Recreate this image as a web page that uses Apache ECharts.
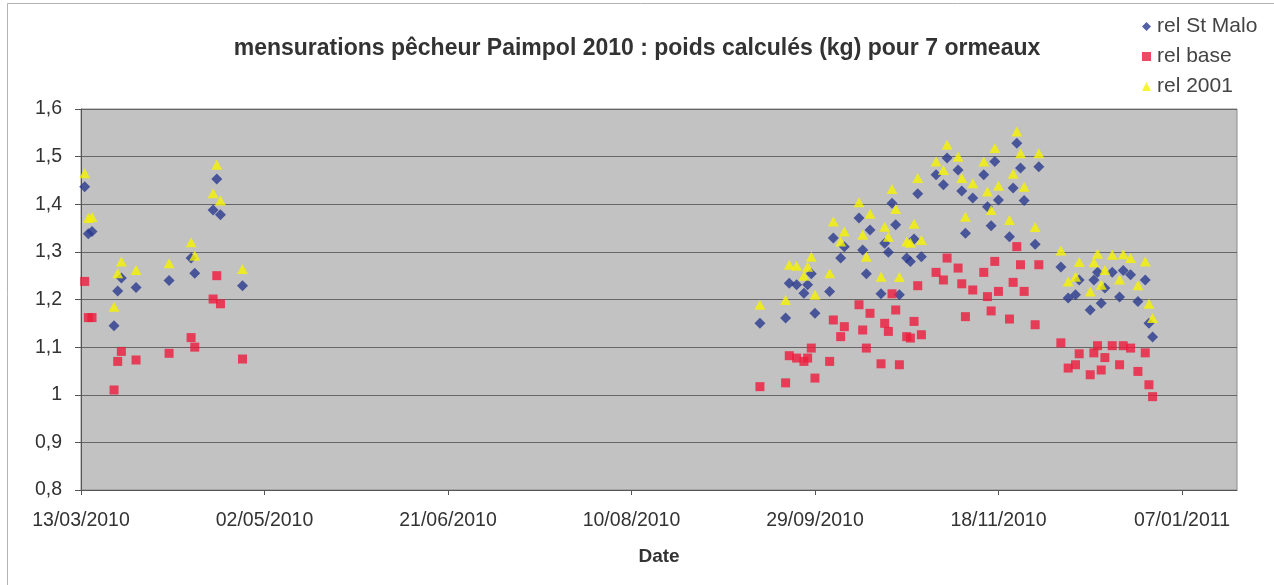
<!DOCTYPE html>
<html><head><meta charset="utf-8">
<script src="https://cdn.jsdelivr.net/npm/echarts@6/dist/echarts.min.js"></script>
<style>html,body{margin:0;padding:0;background:#fff}#c{width:1274px;height:585px}</style>
</head><body><div id="c"></div>
<script>
const titleText = 'mensurations pêcheur Paimpol 2010 : poids calculés (kg) pour 7 ormeaux';
const seriesNames = ['rel St Malo', 'rel base', 'rel 2001'];
const xAxisName = 'Date';
const xAxisStart = '13/03/2010';
const xAxisEnd = '22/01/2011';
const xTickLabels = ['13/03/2010','02/05/2010','21/06/2010','10/08/2010','29/09/2010','18/11/2010','07/01/2011'];
const xTickDays = 50;
const yMin = 0.8, yMax = 1.6, yStep = 0.1;

const dates = [
 '14/03/2010','15/03/2010','16/03/2010','22/03/2010','23/03/2010','24/03/2010','28/03/2010',
 '06/04/2010','12/04/2010','13/04/2010','18/04/2010','19/04/2010','20/04/2010','26/04/2010',
 '14/09/2010','21/09/2010','22/09/2010','24/09/2010','26/09/2010','27/09/2010','28/09/2010','29/09/2010',
 '03/10/2010','04/10/2010','06/10/2010','07/10/2010','11/10/2010','12/10/2010','13/10/2010','14/10/2010',
 '17/10/2010','18/10/2010','19/10/2010','20/10/2010','21/10/2010','22/10/2010','24/10/2010','25/10/2010',
 '26/10/2010','27/10/2010','28/10/2010',
 '01/11/2010','03/11/2010','04/11/2010','07/11/2010','08/11/2010','09/11/2010','11/11/2010','14/11/2010',
 '15/11/2010','16/11/2010','17/11/2010','18/11/2010','21/11/2010','22/11/2010','23/11/2010','24/11/2010',
 '25/11/2010','28/11/2010','29/11/2010',
 '05/12/2010','07/12/2010','09/12/2010','10/12/2010','13/12/2010','14/12/2010','15/12/2010','16/12/2010',
 '17/12/2010','19/12/2010','21/12/2010','22/12/2010','24/12/2010','26/12/2010','28/12/2010','29/12/2010','30/12/2010'
];
const relStMalo = [
 1.437,1.338,1.343,1.145,1.218,1.245,1.225,1.240,1.287,1.255,1.388,1.453,1.378,1.229,
 1.150,1.161,1.234,1.231,1.213,1.231,1.254,1.171,
 1.217,1.329,1.287,1.311,1.371,1.304,1.254,1.346,
 1.212,1.318,1.299,1.402,1.357,1.210,1.287,1.280,
 1.327,1.422,1.290,
 1.462,1.441,1.497,1.472,1.428,1.339,1.413,1.462,
 1.395,1.355,1.490,1.409,1.332,1.434,1.528,1.476,
 1.408,1.316,1.479,
 1.268,1.203,1.210,1.241,1.178,1.241,1.257,1.192,
 1.224,1.257,1.205,1.261,1.252,1.196,1.241,1.150,1.121
];
const relBase = [
 1.238,1.162,1.162,1.010,1.070,1.091,1.073,1.087,1.120,1.100,1.201,1.250,1.191,1.075,
 1.017,1.025,1.082,1.077,1.070,1.077,1.098,1.035,
 1.070,1.157,1.122,1.143,1.189,1.136,1.098,1.171,
 1.065,1.150,1.133,1.212,1.178,1.063,1.122,1.119,
 1.154,1.229,1.126,
 1.257,1.241,1.287,1.266,1.233,1.164,1.220,1.257,
 1.206,1.176,1.280,1.217,1.159,1.236,1.311,1.273,
 1.217,1.147,1.273,
 1.109,1.056,1.063,1.086,1.042,1.088,1.103,1.052,
 1.078,1.103,1.063,1.103,1.098,1.049,1.088,1.021,0.996
];
const rel2001 = [
 1.465,1.371,1.373,1.185,1.255,1.280,1.262,1.276,1.320,1.292,1.423,1.483,1.408,1.264,
 1.189,1.199,1.273,1.271,1.250,1.269,1.290,1.210,
 1.255,1.364,1.322,1.343,1.404,1.336,1.290,1.380,
 1.248,1.353,1.332,1.432,1.390,1.247,1.322,1.319,
 1.359,1.455,1.325,
 1.490,1.472,1.525,1.500,1.455,1.374,1.444,1.490,
 1.427,1.388,1.518,1.439,1.367,1.464,1.553,1.507,
 1.437,1.352,1.507,
 1.303,1.238,1.248,1.279,1.217,1.278,1.296,1.231,
 1.262,1.294,1.242,1.295,1.287,1.230,1.280,1.191,1.161
];

function serial(s){const p=s.split('/').map(Number);return Date.UTC(p[2],p[1]-1,p[0])/86400000+25569;}
function fmtDate(v){const d=new Date((v-25569)*86400000);const z=n=>String(n).padStart(2,'0');return z(d.getUTCDate())+'/'+z(d.getUTCMonth()+1)+'/'+d.getUTCFullYear();}
const xMin = serial(xAxisStart), xMax = serial(xAxisEnd);
const xTicks = xTickLabels.map(serial);
const pts = arr => dates.map((d,i)=>[serial(d), arr[i]]);

const FONT = 'Liberation Sans, Arial, sans-serif';
const chart = echarts.init(document.getElementById('c'), null, {renderer:'canvas'});
chart.setOption({
  animation:false,
  backgroundColor:'#ffffff',
  graphic:[
    {type:'polyline',silent:true,shape:{points:[[7.5,585],[7.5,3.5],[1274,3.5]]},style:{stroke:'#b4b4b4',lineWidth:1,fill:null}}
  ],
  title:{text:titleText,left:'center',top:32,textStyle:{fontFamily:FONT,fontSize:23,fontWeight:'bold',color:'#333333'}},
  legend:{orient:'vertical',left:1137,top:11,itemGap:9,itemWidth:9,itemHeight:9,
    textStyle:{fontFamily:FONT,fontSize:21,color:'#444444',padding:[0,0,0,1]},
    data:[{name:seriesNames[0],icon:'diamond'},{name:seriesNames[1],icon:'rect'},{name:seriesNames[2],icon:'triangle'}]},
  grid:{left:81,right:37,top:109,bottom:95,show:true,backgroundColor:'#c2c2c2',borderColor:'#8a8a8a',borderWidth:1},
  xAxis:{type:'value',min:xMin,max:xMax,interval:xTickDays,
    name:xAxisName,nameLocation:'middle',nameGap:57,
    nameTextStyle:{fontFamily:FONT,fontSize:19,fontWeight:'bold',color:'#333333'},
    axisLine:{lineStyle:{color:'#555555',width:1}},
    axisTick:{show:true,length:5,lineStyle:{color:'#555555'},customValues:xTicks},
    splitLine:{show:false},
    axisLabel:{customValues:xTicks,margin:21,fontFamily:FONT,fontSize:19.5,color:'#333333',
      formatter:v=>fmtDate(v)}},
  yAxis:{type:'value',min:yMin,max:yMax,interval:yStep,
    axisLine:{show:true,lineStyle:{color:'#555555',width:1}},
    axisTick:{show:true,length:6,lineStyle:{color:'#555555'}},
    splitLine:{show:true,lineStyle:{color:'#666666',width:1}},
    axisLabel:{margin:19,fontFamily:FONT,fontSize:19.5,color:'#333333',
      formatter:v=>String(Math.round(v*10)/10).replace('.',',')}},
  series:[
    {name:seriesNames[0],type:'scatter',symbol:'diamond',symbolSize:[11,11],itemStyle:{color:'#2b3a8f'},data:pts(relStMalo)},
    {name:seriesNames[1],type:'scatter',symbol:'rect',symbolSize:[9,9],itemStyle:{color:'#ee1c3c'},data:pts(relBase)},
    {name:seriesNames[2],type:'scatter',symbol:'triangle',symbolSize:[11,10],itemStyle:{color:'#f6f200'},data:pts(rel2001)}
  ]
});
</script></body></html>
